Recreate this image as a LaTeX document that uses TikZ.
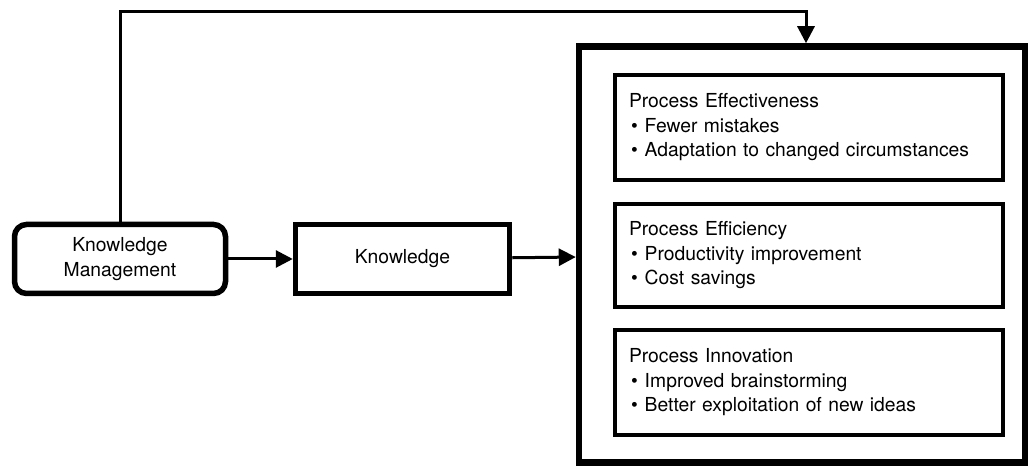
\documentclass[tikz,border=0pt]{standalone}
\usepackage{fontspec}
\setmainfont{TeX Gyre Heros}
\usetikzlibrary{arrows.meta}

\newcommand{\itm}{\hspace*{2pt}\textbullet\hspace{7pt}}

\begin{document}
\begin{tikzpicture}[x=1pt, y=1pt,
    font=\fontsize{19.3}{24.5}\selectfont,
    >={Triangle[length=17pt,width=17pt]},
    item/.style={draw,line width=4pt,fill=white,minimum width=388pt,text width=360pt,align=left,inner xsep=14pt}]
      \useasboundingbox (0,0) rectangle (1031,470);
      \node[draw,line width=5.5pt,rounded corners=12pt,fill=white,minimum width=211pt,minimum height=69pt,align=center] (km) at (120, 211) {Knowledge\\Management};
      \node[draw,line width=5.5pt,fill=white,minimum width=214pt,minimum height=69pt] (know) at (402.5, 211) {Knowledge};
      \node[draw,line width=6.5pt,fill=white,minimum width=446pt,minimum height=416pt] (effects) at (802, 215.5) {};
      \node[item,minimum height=105pt] (effect) at (809, 342.5) {Process Effectiveness\\\itm Fewer mistakes\\\itm Adaptation to changed circumstances};
      \node[item,minimum height=103pt] (effic) at (809, 214.5) {Process Efficiency\\\itm Productivity improvement\\\itm Cost savings};
      \node[item,minimum height=105pt] (innov) at (809, 87.5) {Process Innovation\\\itm Improved brainstorming\\\itm Better exploitation of new ideas};
      \coordinate (bend) at (806, 458);
      \draw[->,line width=3pt] (km) -- (know);
      \draw[->,line width=3pt] (know) -- (effects);
      \draw[->,line width=3pt] (km.north) |- (bend) -- (bend |- effects.north);
   \end{tikzpicture}
\end{document}
